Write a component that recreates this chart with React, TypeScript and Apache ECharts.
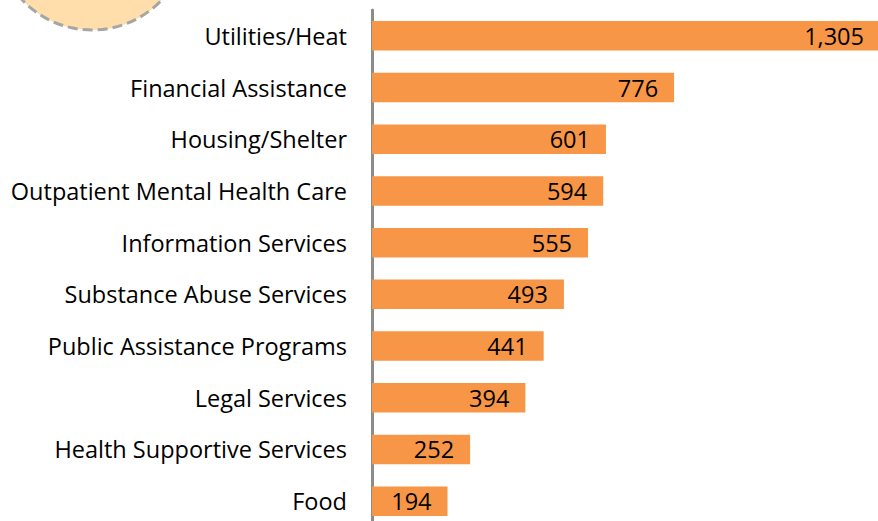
import React, { useEffect, useRef } from "react";
import * as echarts from "echarts";

const categories = [
  "Utilities/Heat",
  "Financial Assistance",
  "Housing/Shelter",
  "Outpatient Mental Health Care",
  "Information Services",
  "Substance Abuse Services",
  "Public Assistance Programs",
  "Legal Services",
  "Health Supportive Services",
  "Food",
];
const values = [1305, 776, 601, 594, 555, 493, 441, 394, 252, 194];

const FONT = "'Open Sans', 'Liberation Sans', sans-serif";

export default function App() {
  const ref = useRef<HTMLDivElement>(null);
  useEffect(() => {
    document.body.style.margin = "0";
    const chart = echarts.init(ref.current!, undefined, { renderer: "svg" });
    chart.setOption({
      animation: false,
      grid: {
        left: 372,
        width: 508,
        top: 10,
        height: 517,
        containLabel: false,
        outerBoundsMode: "none",
      },
      xAxis: {
        type: "value",
        min: 0,
        max: 1305,
        show: false,
      },
      yAxis: {
        type: "category",
        data: categories,
        inverse: true,
        axisTick: { show: false },
        axisLine: { show: true, lineStyle: { color: "#8c8c8c", width: 3 } },
        axisLabel: {
          margin: 25,
          fontSize: 23.5,
          color: "#000",
          fontFamily: FONT,
        },
        splitLine: { show: false },
      },
      graphic: [
        {
          type: "circle",
          shape: { cx: 92, cy: -66, r: 96 },
          style: {
            fill: "#FFDEAB",
            stroke: "#A6A6A6",
            lineWidth: 3,
            lineDash: [10, 5],
          },
          z: 10,
        },
      ],
      series: [
        {
          type: "bar",
          data: values,
          barCategoryGap: "43%",
          itemStyle: { color: "#F79646" },
          label: {
            show: true,
            position: "insideRight",
            distance: 16,
            fontSize: 23.5,
            color: "#000",
            fontFamily: FONT,
            formatter: (p: any) => p.value.toLocaleString("en-US"),
          },
        },
      ],
    });
    return () => chart.dispose();
  }, []);
  return <div ref={ref} style={{ width: 878, height: 521 }} />;
}
